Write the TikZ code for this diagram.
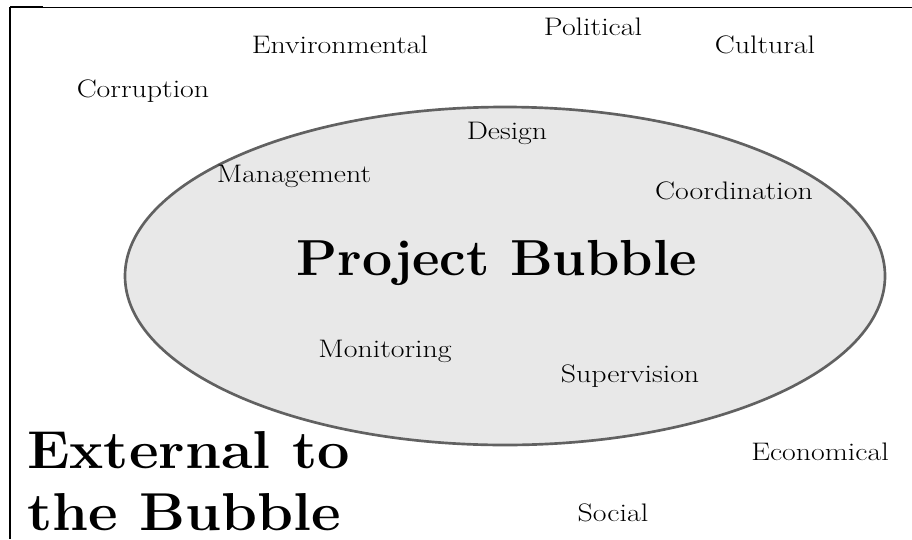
\documentclass[tikz,border=0pt]{standalone}
\usepackage{graphicx}
\usetikzlibrary{shapes.geometric}
\newcommand{\widetext}[2]{\scalebox{#1}[1]{#2}}
\begin{document}
\begin{tikzpicture}[x=0.75pt,y=-0.75pt,
  lbl/.style={anchor=base,inner sep=0pt,font=\fontsize{19}{22}\selectfont},
  big/.style={anchor=base,inner sep=0pt,font=\fontsize{38}{44}\selectfont\bfseries},
  ext/.style={anchor=base west,inner sep=0pt,font=\fontsize{40}{46}\selectfont\bfseries}]
\useasboundingbox (0,0) rectangle (912,539);
% frame lines
\draw[line width=0.75pt] (10,7) -- (912,7);
\draw[line width=1.5pt] (10,6.5) -- (10,539);
\draw[line width=1.5pt] (10,7) -- (43,7);
% the bubble
\node[draw=black!62,fill=black!9,line width=2pt,ellipse,minimum width=570pt,minimum height=253.5pt,inner sep=0pt] (bubble) at (505,276) {};
% labels inside
\node[big] (pb) at (497,275) {\widetext{1.055}{Project Bubble}};
\node[lbl] (design) at (507,139) {\widetext{1.18}{Design}};
\node[lbl] (mgmt) at (294,182) {\widetext{1.18}{Management}};
\node[lbl] (coord) at (734,199) {\widetext{1.18}{Coordination}};
\node[lbl] (mon) at (385,357) {\widetext{1.18}{Monitoring}};
\node[lbl] (sup) at (630,382) {\widetext{1.18}{Supervision}};
% labels outside
\node[lbl] (pol) at (593,35) {\widetext{1.18}{Political}};
\node[lbl] (env) at (340,53) {\widetext{1.18}{Environmental}};
\node[lbl] (cult) at (765,53) {\widetext{1.18}{Cultural}};
\node[lbl] (corr) at (143,97) {\widetext{1.18}{Corruption}};
\node[lbl] (econ) at (820,460) {\widetext{1.18}{Economical}};
\node[lbl] (soc) at (613,521) {\widetext{1.18}{Social}};
\node[ext] (ext1) at (27,468) {\widetext{1.08}{External to}};
\node[ext] (ext2) at (27,530) {\widetext{1.08}{the Bubble}};
\end{tikzpicture}
\end{document}
